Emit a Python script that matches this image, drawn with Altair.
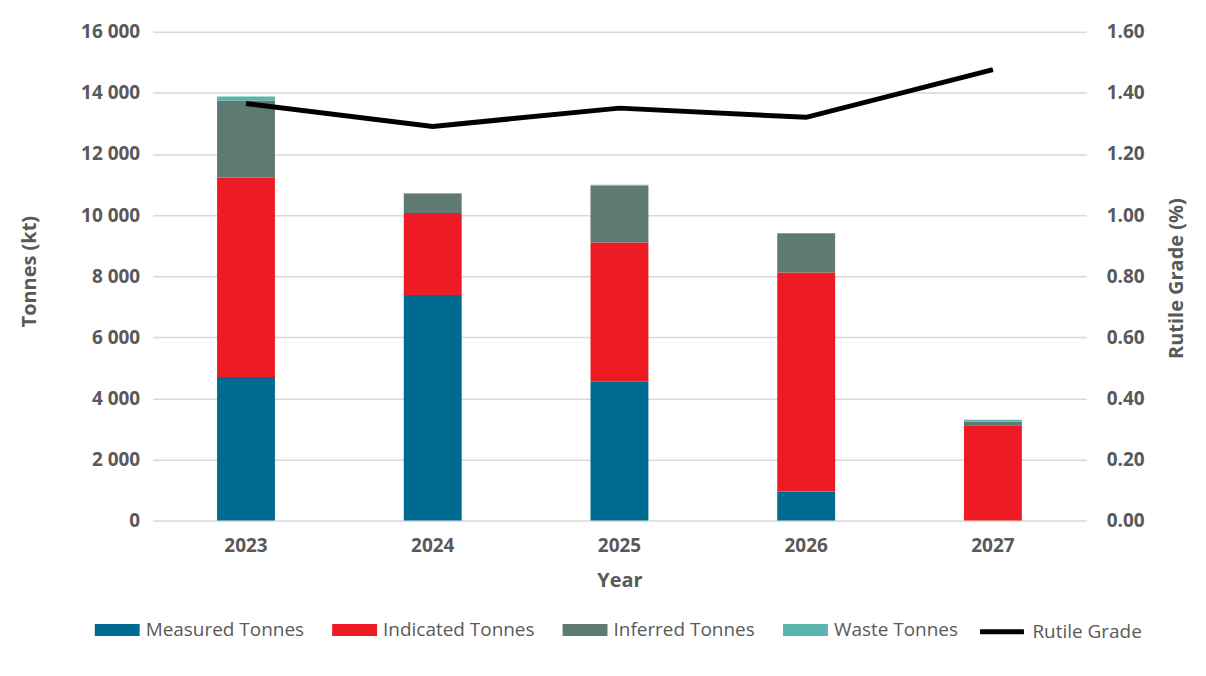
import altair as alt
import pandas as pd

years = ["2023", "2024", "2025", "2026", "2027"]
measured = [4700, 7380, 4540, 950, 0]
indicated = [6530, 2690, 4560, 7170, 3120]
inferred = [2520, 630, 1860, 1260, 110]
waste = [130, 25, 30, 30, 70]
grade = [1.365, 1.29, 1.35, 1.32, 1.476]

series = ["Measured Tonnes", "Indicated Tonnes", "Inferred Tonnes", "Waste Tonnes"]
colors = ["#006B91", "#ED1C24", "#5F7A73", "#5BB5AE"]

rows = []
for i, y in enumerate(years):
    for k, (name, vals) in enumerate(zip(series, [measured, indicated, inferred, waste])):
        rows.append({"Year": y, "Series": name, "Tonnes": vals[i], "order": k})
bars_df = pd.DataFrame(rows)
line_df = pd.DataFrame({"Year": years, "Grade": grade})

FONT = "Open Sans"
GRAY = "#595959"

x_enc = alt.X(
    "Year:N",
    scale=alt.Scale(paddingInner=0.69, paddingOuter=0.345),
    axis=alt.Axis(
        title="Year", labelAngle=0, ticks=False, domain=False, labelPadding=16,
        labelFontSize=19, labelFontWeight="bold", labelColor=GRAY,
        titleFontSize=20, titleFontWeight="bold", titleColor=GRAY, titleY=50,
    ),
)

bars = alt.Chart(bars_df).mark_bar().encode(
    x=x_enc,
    y=alt.Y(
        "Tonnes:Q",
        stack="zero",
        scale=alt.Scale(domain=[0, 16000], nice=False),
        axis=alt.Axis(
            title="Tonnes (kt)", values=list(range(0, 16001, 2000)), format=",.0f",
            labelExpr="replace(datum.label, ',', ' ')",
            ticks=False, domain=False, labelPadding=13,
            gridColor="#D9D9D9", gridWidth=1.5,
            labelFontSize=19, labelFontWeight="bold", labelColor=GRAY,
            titleFontSize=20, titleFontWeight="bold", titleColor=GRAY,
            titleX=-123, titleY=240, titleAngle=-90, titleBaseline="middle",
        ),
    ),
    color=alt.Color(
        "Series:N",
        scale=alt.Scale(domain=series, range=colors),
        legend=alt.Legend(
            title=None, orient="none", direction="horizontal", columns=4,
            legendX=-58, legendY=577,
            symbolType="M-1,-0.27H1V0.27H-1Z", symbolSize=2025, symbolStrokeWidth=0,
            symbolOpacity=1,
            labelFontSize=19, labelColor=GRAY, labelFont=FONT, labelOffset=6,
            columnPadding=28, labelLimit=300,
        ),
    ),
    order=alt.Order("order:Q", sort="ascending"),
)

line = alt.Chart(line_df).mark_line(strokeWidth=5).encode(
    x=alt.X("Year:N"),
    y=alt.Y(
        "Grade:Q",
        scale=alt.Scale(domain=[0, 1.6], nice=False),
        axis=alt.Axis(
            orient="right", title="Rutile Grade (%)", values=[0, 0.2, 0.4, 0.6, 0.8, 1.0, 1.2, 1.4, 1.6],
            format=".2f", grid=False, ticks=False, domain=False, labelPadding=20,
            labelFontSize=19, labelFontWeight="bold", labelColor=GRAY,
            titleFontSize=20, titleFontWeight="bold", titleColor=GRAY,
            titleX=90, titleY=247, titleAngle=-90, titleBaseline="middle",
        ),
    ),
    stroke=alt.Stroke(
        "Name:N",
        scale=alt.Scale(domain=["Rutile Grade"], range=["#000000"]),
        legend=alt.Legend(
            title=None, orient="none", direction="horizontal",
            legendX=827, legendY=577,
            symbolType="stroke", symbolSize=1936, symbolStrokeWidth=5,
            labelFontSize=19, labelColor=GRAY, labelFont=FONT, labelOffset=6,
        ),
    ),
).transform_calculate(Name="'Rutile Grade'")

chart = (
    alt.layer(bars, line)
    .resolve_scale(y="independent")
    .properties(
        width=936, height=490,
        autosize=alt.AutoSizeParams(type="none"),
        padding={"left": 145, "top": 23, "right": 112, "bottom": 140},
    )
    .configure(font=FONT)
    .configure_view(stroke=None)
)

chart.save("out.html", embed_options={"renderer": "svg", "actions": False})
